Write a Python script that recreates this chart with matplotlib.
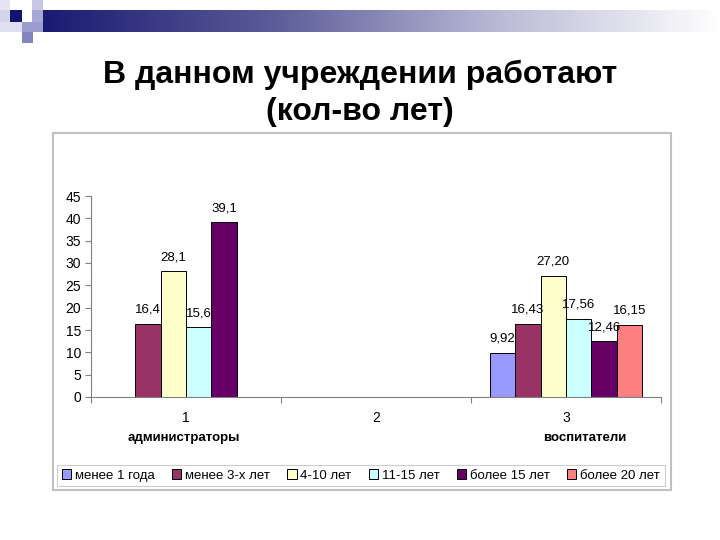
import numpy as np
import matplotlib
matplotlib.use("Agg")
from matplotlib import pyplot as plt
from matplotlib.patches import Rectangle
from matplotlib.colors import LinearSegmentedColormap

plt.rcParams['font.family'] = ['Liberation Sans', 'DejaVu Sans']

title = "В данном учреждении работают\n(кол-во лет)"
categories = ["1", "2", "3"]
group_names = ["администраторы", "", "воспитатели"]
series_names = ["менее 1 года", "менее 3-х лет", "4-10 лет", "11-15 лет", "более 15 лет", "более 20 лет"]
series_colors = ["#9999FF", "#993366", "#FFFFCC", "#CCFFFF", "#660066", "#FF8080"]

# rows = series, columns = categories 1..3
values = [
    [np.nan, np.nan, 9.92],
    [16.4, np.nan, 16.43],
    [28.1, np.nan, 27.20],
    [15.6, np.nan, 17.56],
    [39.1, np.nan, 12.46],
    [np.nan, np.nan, 16.15],
]
labels = [
    ["", "", "9,92"],
    ["16,4", "", "16,43"],
    ["28,1", "", "27,20"],
    ["15,6", "", "17,56"],
    ["39,1", "", "12,46"],
    ["", "", "16,15"],
]
yticks = list(range(0, 50, 5))

fig = plt.figure(figsize=(7.2, 5.4), dpi=100)

# slide decoration, top-left
def fig_rect(x, y, w, h, color, z=1):
    fig.patches.append(Rectangle((x / 720, 1 - (y + h) / 540), w / 720, h / 540,
                                 transform=fig.transFigure, facecolor=color,
                                 edgecolor="none", zorder=z))

grad_ax = fig.add_axes([43 / 720, 1 - 32 / 540, 677 / 720, 22 / 540])
cmap = LinearSegmentedColormap.from_list("g", ["#1a1a72", "#5a5a98", "#b8b8d4", "#ffffff"])
grad_ax.imshow(np.linspace(0, 1, 256)[None, :], aspect="auto", cmap=cmap)
grad_ax.axis("off")
fig_rect(0, 0, 10, 10, "#e4e4f2")
fig_rect(32, 0, 11, 10, "#c8c8e4")
fig_rect(10, 10, 12, 12, "#141470")
fig_rect(0, 10, 10, 12, "#d4d4ea")
fig_rect(32, 10, 11, 12, "#a8a8d4")
fig_rect(22, 22, 21, 10, "#9c9cd0")
fig_rect(0, 22, 22, 10, "#e0e0f0")
fig_rect(22, 32, 11, 11, "#8484c0")

fig.text(0.5, 1 - 93 / 540, title, ha="center", va="center", fontsize=23,
         fontweight="bold", linespacing=1.3)

# chart frame
fig.patches.append(Rectangle((53 / 720, 1 - 490 / 540), 618 / 720, 357 / 540,
                             transform=fig.transFigure, facecolor="none",
                             edgecolor="#c0c0c0", lw=1.5, zorder=-1))

ax = fig.add_axes([91 / 720, 1 - 397 / 540, 570 / 720, 201 / 540])
ax.patch.set_alpha(0)
x = np.arange(len(categories))
n = len(series_names)
w = 0.134
for i in range(n):
    pos = x + (i - (n - 1) / 2) * w
    ax.bar(pos, values[i], w, color=series_colors[i], edgecolor="black",
           linewidth=0.7, label=series_names[i], zorder=2)
    for j in range(len(categories)):
        if labels[i][j]:
            ax.text(pos[j], values[i][j] + 1.8, labels[i][j], ha="center",
                    va="bottom", fontsize=9.5, zorder=3)

ax.set_xlim(-0.5, 2.5)
ax.set_ylim(0, 45)
ax.set_yticks(yticks)
ax.set_xticks([-0.5, 0.5, 1.5, 2.5])
ax.set_xticklabels([])
ax.set_xticks(x, minor=True)
ax.set_xticklabels(categories, minor=True)
ax.tick_params(axis="x", which="minor", length=0, labelsize=10, pad=10)
ax.tick_params(axis="x", which="major", length=4, color="#808080")
ax.tick_params(axis="y", length=4, color="#808080", labelsize=10, pad=3)
for s in ["top", "right"]:
    ax.spines[s].set_visible(False)
for s in ["left", "bottom"]:
    ax.spines[s].set_color("#808080")
    ax.spines[s].set_linewidth(0.8)

fig.text(184 / 720, 1 - 438 / 540, group_names[0], ha="center", va="center",
         fontsize=9.5, fontweight="bold")
fig.text(585 / 720, 1 - 438 / 540, group_names[2], ha="center", va="center",
         fontsize=9.5, fontweight="bold")

leg = fig.legend(loc="center", bbox_to_anchor=(361 / 720, 1 - 475.5 / 540), ncol=6,
                 fontsize=9.5, frameon=True, fancybox=False, edgecolor="#c0c0c0",
                 handlelength=0.7, handleheight=0.7, handletextpad=0.3,
                 columnspacing=1.3, borderpad=0.35)
leg.get_frame().set_linewidth(0.8)

fig.savefig("out.png", dpi=100)
